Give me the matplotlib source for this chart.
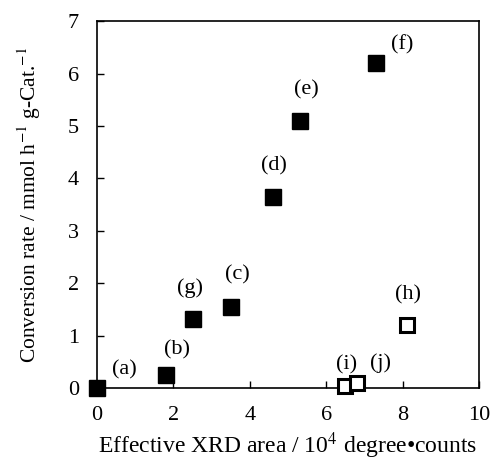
import matplotlib.pyplot as plt

# filled samples
labels_filled = ['(a)', '(b)', '(g)', '(c)', '(d)', '(e)', '(f)']
x_filled = [0.0, 1.8, 2.5, 3.5, 4.6, 5.3, 7.3]
y_filled = [0.0, 0.25, 1.32, 1.55, 3.65, 5.1, 6.2]

# open samples
labels_open = ['(h)', '(i)', '(j)']
x_open = [8.1, 6.5, 6.8]
y_open = [1.2, 0.05, 0.1]

plt.rcParams['font.family'] = ['Liberation Serif', 'DejaVu Serif']
plt.rcParams['mathtext.fontset'] = 'stix'

fig = plt.figure(figsize=(4.9, 4.61), dpi=100)
ax = fig.add_axes([0.198, 0.158, 0.78, 0.796])

ax.plot(x_filled, y_filled, 's', color='black', markersize=12, clip_on=False, zorder=3)
ax.plot(x_open, y_open, 's', markerfacecolor='white', markeredgecolor='black',
        markeredgewidth=2.2, markersize=10.5, clip_on=False, zorder=3)

# label offsets in points
offs = {'(a)': (20, 13), '(b)': (8, 18), '(g)': (-2, 22), '(c)': (5, 23), '(d)': (1, 22),
        '(e)': (5, 22), '(f)': (19, 13), '(h)': (1, 22), '(i)': (1, 15), '(j)': (17, 14)}
for lab, x, y in zip(labels_filled + labels_open, x_filled + x_open, y_filled + y_open):
    ax.annotate(lab, (x, y), xytext=offs[lab], textcoords='offset points',
                ha='center', va='center', fontsize=16)

ax.set_xlim(0, 10)
ax.set_ylim(0, 7)
ax.set_xticks(range(0, 11, 2))
ax.set_yticks(range(0, 8))
ax.tick_params(direction='in', labelsize=16, length=5, width=1)
ax.tick_params(axis='x', pad=13)
ax.tick_params(axis='y', pad=13)
for s in ax.spines.values():
    s.set_linewidth(1.2)

ax.set_xlabel('Effective XRD area / 10$^{4}$ degree\u2022counts', fontsize=17, labelpad=4)
ax.set_ylabel('Conversion rate / mmol h$^{\\mathrm{-1}}$ g-Cat.$^{\\mathrm{-1}}$', fontsize=15.5, labelpad=18)

plt.savefig('out.png', dpi=100)
